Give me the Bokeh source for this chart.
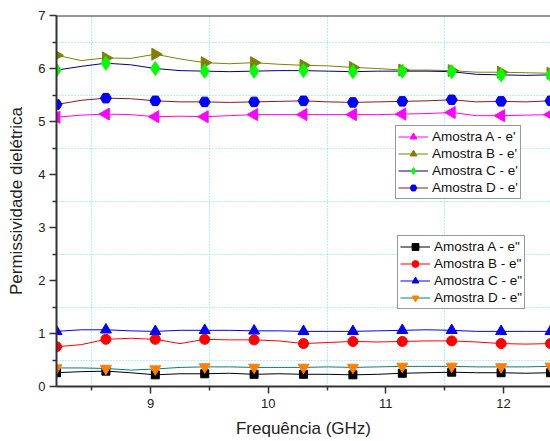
import math
from bokeh.plotting import figure
from bokeh.models import FixedTicker, Legend, LegendItem, Span, Range1d
from bokeh.embed import file_html
from bokeh.resources import INLINE

freq = [8.20, 8.41, 8.62, 8.83, 9.04, 9.25, 9.46, 9.67, 9.88, 10.09, 10.30,
        10.51, 10.72, 10.93, 11.14, 11.35, 11.56, 11.77, 11.98, 12.19, 12.40]

a_real = [5.08, 5.12, 5.14, 5.13, 5.09, 5.10, 5.09, 5.11, 5.13, 5.13, 5.13,
          5.13, 5.13, 5.13, 5.14, 5.15, 5.17, 5.11, 5.11, 5.12, 5.13]
b_real = [6.25, 6.15, 6.20, 6.19, 6.27, 6.18, 6.11, 6.09, 6.11, 6.08, 6.06,
          6.05, 6.02, 6.00, 5.97, 5.97, 5.96, 5.93, 5.93, 5.92, 5.91]
c_real = [5.97, 6.04, 6.10, 6.07, 6.00, 5.96, 5.95, 5.94, 5.95, 5.96, 5.96,
          5.95, 5.94, 5.95, 5.95, 5.95, 5.94, 5.89, 5.88, 5.87, 5.88]
d_real = [5.32, 5.40, 5.44, 5.43, 5.39, 5.37, 5.37, 5.36, 5.37, 5.38, 5.39,
          5.37, 5.36, 5.37, 5.38, 5.39, 5.41, 5.37, 5.38, 5.37, 5.39]

a_imag = [0.26, 0.28, 0.29, 0.26, 0.22, 0.24, 0.24, 0.25, 0.23, 0.24, 0.23,
          0.23, 0.22, 0.23, 0.25, 0.26, 0.27, 0.26, 0.26, 0.25, 0.26]
b_imag = [0.75, 0.79, 0.89, 0.91, 0.89, 0.81, 0.89, 0.88, 0.88, 0.86, 0.81,
          0.83, 0.85, 0.84, 0.85, 0.86, 0.86, 0.84, 0.81, 0.80, 0.81]
c_imag = [1.04, 1.07, 1.07, 1.05, 1.04, 1.06, 1.06, 1.06, 1.05, 1.05, 1.04,
          1.04, 1.04, 1.05, 1.06, 1.07, 1.06, 1.04, 1.04, 1.04, 1.04]
d_imag = [0.35, 0.35, 0.34, 0.31, 0.33, 0.36, 0.37, 0.37, 0.36, 0.36, 0.36,
          0.37, 0.36, 0.37, 0.38, 0.38, 0.38, 0.37, 0.37, 0.37, 0.38]

x_ticks = [9, 10, 11, 12]
x_minor = [8.5, 9.5, 10.5, 11.5, 12.5]
y_ticks = [0, 1, 2, 3, 4, 5, 6, 7]
y_minor = [0.5, 1.5, 2.5, 3.5, 4.5, 5.5, 6.5]

FONT = "Liberation Sans"
AX = "#333333"

p = figure(width=550, height=441, output_backend="svg", toolbar_location=None,
           x_range=Range1d(8.2, 12.4), y_range=Range1d(0, 7),
           min_border_left=56, min_border_right=0, min_border_top=15,
           min_border_bottom=55)
p.outline_line_color = None
p.background_fill_color = "white"
p.border_fill_color = "white"

for ax, tk, mn in ((p.xaxis[0], x_ticks, x_minor), (p.yaxis[0], y_ticks, y_minor)):
    ax.ticker = FixedTicker(ticks=tk, minor_ticks=mn)
    ax.axis_line_color = AX
    ax.axis_line_width = 2
    ax.major_tick_line_color = AX
    ax.major_tick_line_width = 1.5
    ax.minor_tick_line_color = AX
    ax.minor_tick_line_width = 1.5
    ax.major_tick_out = 7
    ax.major_tick_in = 0
    ax.minor_tick_out = 4
    ax.minor_tick_in = 0
    ax.major_label_text_font = FONT
    ax.major_label_text_font_size = "13px"
    ax.major_label_text_color = "#222222"
    ax.axis_label_text_font = FONT
    ax.axis_label_text_font_size = "17px"
    ax.axis_label_text_font_style = "normal"
    ax.axis_label_text_color = "#222222"

p.xaxis.axis_label = "Frequência (GHz)"
p.yaxis.axis_label = "Permissividade dielétrica"
p.xaxis.major_label_standoff = 5
p.xaxis.axis_label_standoff = 8
p.yaxis.major_label_standoff = 4
p.yaxis.axis_label_standoff = 9

for g in (p.xgrid[0], p.ygrid[0]):
    g.grid_line_color = None
    g.minor_grid_line_color = "#66e0e8"
    g.minor_grid_line_dash = "1 2"
    g.minor_grid_line_width = 1

p.add_layout(Span(location=7, dimension="width", line_color=AX, line_width=2))

series_real = [
    ("Amostra A - e'", a_real, "#ff00ff", "triangle", "#ff00ff", math.pi / 2, 12),
    ("Amostra B - e'", b_real, "#808000", "triangle", "#808000", -math.pi / 2, 12),
    ("Amostra C - e'", c_real, "#000080", "diamond", "#00ff00", 0, 14),
    ("Amostra D - e'", d_real, "#8b1a1a", "hex", "#0000ff", 0, 11),
]
series_imag = [
    ("Amostra A - e\"", a_imag, "#000000", "square", "#000000", 0, 8),
    ("Amostra B - e\"", b_imag, "#ff0000", "circle", "#ff0000", 0, 10),
    ("Amostra C - e\"", c_imag, "#0000ff", "triangle", "#0000ff", 0, 11),
    ("Amostra D - e\"", d_imag, "#008080", "inverted_triangle", "#ff8000", 0, 11),
]

def draw(series):
    items = []
    for label, vals, lc, mk, mc, ang, sz in series:
        ln = p.line(freq, vals, line_color=lc, line_width=1)
        sc = p.scatter(freq[::2], vals[::2], marker=mk, size=sz, angle=ang,
                       fill_color=mc, line_color=mc)
        items.append(LegendItem(label=label, renderers=[ln, sc]))
    return items

def make_legend(items, loc):
    lg = Legend(items=items, location=loc)
    lg.label_text_font = FONT
    lg.label_text_font_size = "13.5px"
    lg.label_text_color = "#111111"
    lg.glyph_width = 30
    lg.glyph_height = 17
    lg.label_height = 17
    lg.spacing = 0
    lg.padding = 2
    lg.margin = 0
    lg.label_standoff = 4
    lg.border_line_color = AX
    lg.border_line_width = 1
    lg.background_fill_color = "white"
    lg.background_fill_alpha = 1
    return lg

# legend bottom-left corners, measured from the frame's bottom-left (px)
p.add_layout(make_legend(draw(series_real), (339, 187)))
p.add_layout(make_legend(draw(series_imag), (341, 77)))

open("out.html", "w").write(file_html(p, INLINE))
